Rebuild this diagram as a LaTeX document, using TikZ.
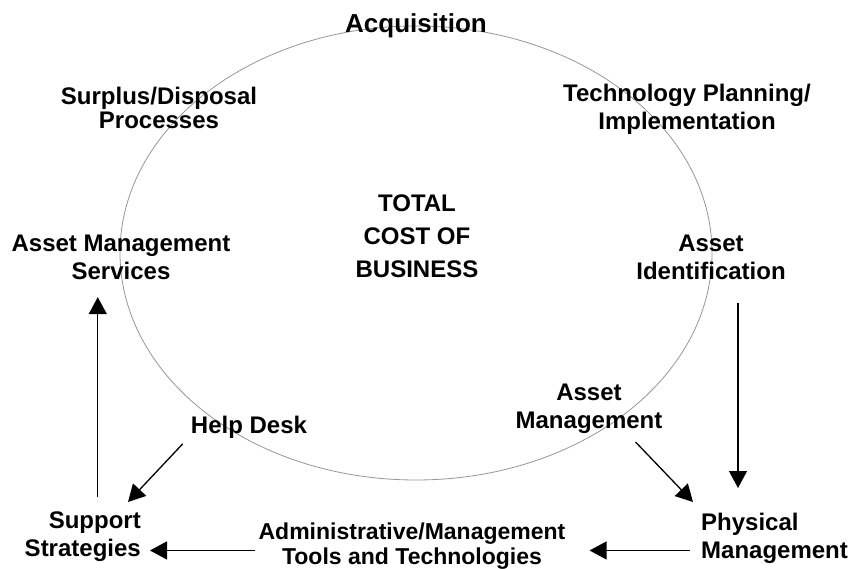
\documentclass[tikz,border=0pt]{standalone}
\usepackage{fontspec}
\setmainfont{Liberation Sans}
\usetikzlibrary{arrows.meta}
\begin{document}
\begin{tikzpicture}[x=1pt,y=-1pt,
  lbl/.style={inner sep=0pt, align=center, font=\bfseries\fontsize{24}{28}\selectfont},
  arr/.style={line width=1.3pt, -{Triangle[length=17pt,width=18pt]}},
  ring/.style={line width=0.8pt, draw={rgb,255:red,150;green,150;blue,150}}]
  \useasboundingbox (0,0) rectangle (852,569);
  %Cost circle
  \draw[ring] (416,253) ellipse [x radius=296pt, y radius=227pt];

  %Labels on the circle
  \node[lbl, anchor=base, font=\bfseries\fontsize{26}{30}\selectfont] (acq) at (416,33) {Acquisition};
  \node[lbl, anchor=north, font=\bfseries\fontsize{24}{24}\selectfont] (surplus) at (159,87) {Surplus/Disposal\\Processes};
  \node[lbl, anchor=north] (tech) at (687,84) {Technology Planning/\\Implementation};
  \node[lbl, anchor=north, font=\bfseries\fontsize{24}{33}\selectfont] (total) at (417,195) {TOTAL\\COST OF\\BUSINESS};
  \node[lbl, anchor=north] (services) at (121,235) {Asset Management\\Services};
  \node[lbl, anchor=north] (ident) at (711,235) {Asset\\Identification};
  \node[lbl, anchor=north] (help) at (249,416) {Help Desk};
  \node[lbl, anchor=north] (assetm) at (589,384) {Asset\\Management};

  %Labels at the bottom
  \node[lbl, anchor=north east, align=right] (support) at (141,512) {Support\\Strategies};
  \node[lbl, anchor=north, font=\bfseries\fontsize{23}{25}\selectfont] (admin) at (412,523) {Administrative/Management\\Tools and Technologies};
  \node[lbl, anchor=north west, align=left] (phys) at (701,513) {Physical\\Management};

  %Arrows
  \coordinate (ident-s) at ([xshift=27pt,yshift=-23pt]ident.south);
  \draw[arr, shorten >=25pt] (ident-s) -- (ident-s |- phys.north);
  \draw[arr] ([xshift=-27pt,yshift=-8pt]assetm.south east) -- ([xshift=-8pt,yshift=11pt]phys.north west);
  \coordinate (admin-w) at ([xshift=-3pt,yshift=-4pt]admin.west);
  \path (phys.west |- admin-w) ++(-11,0) coordinate (phys-w);
  \draw[arr, shorten >=24pt] (phys-w) -- (phys-w -| admin.east);
  \draw[arr, shorten >=9pt] (admin-w) -- (admin-w -| support.east);
  \draw[arr] ([xshift=-8pt,yshift=-5pt]help.south west) -- ([xshift=-13pt,yshift=10pt]support.north east);
  \coordinate (support-n) at ([xshift=15pt,yshift=15pt]support.north);
  \draw[arr, shorten >=17pt] (support-n) -- (support-n |- services.south);
\end{tikzpicture}
\end{document}
